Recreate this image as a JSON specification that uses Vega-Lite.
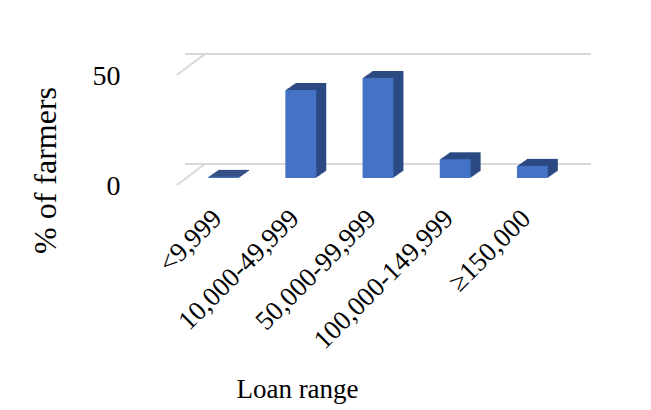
{
  "$schema": "https://vega.github.io/schema/vega-lite/v6.json",
  "autosize": {"type": "none"},
  "padding": {"left": 185, "top": 68, "right": 80, "bottom": 232},
  "width": 386,
  "height": 110,
  "background": "white",
  "config": {"view": {"stroke": null}},
  "data": {"values": [
    {"range": "<9,999", "pct": 0.5},
    {"range": "10,000-49,999", "pct": 40},
    {"range": "50,000-99,999", "pct": 45.5},
    {"range": "100,000-149,999", "pct": 8.5},
    {"range": "≥150,000", "pct": 5.5}
  ]},
  "resolve": {"scale": {"x": "independent"}, "axis": {"x": "independent"}},
  "layer": [
    {
      "data": {"values": [{"g": 0}, {"g": 50}]},
      "mark": {"type": "rule", "color": "#d9d9d9", "strokeWidth": 2, "xOffset": 20, "x2Offset": 20, "yOffset": -14},
      "encoding": {"y": {"field": "g", "type": "quantitative", "scale": {"domain": [0, 50]},
        "axis": {
            "values": [0, 50], "grid": false, "domain": false, "ticks": false,
            "labelPadding": 65, "labelOffset": 8, "labelFont": "Liberation Serif", "labelFontSize": 28, "labelColor": "#000000",
            "title": "% of farmers", "titleFont": "Liberation Serif", "titleFontSize": 32, "titleFontWeight": "normal",
            "titleColor": "#000000", "titleX": -140, "titleY": 102, "titleAngle": -90, "titleAlign": "center", "titleBaseline": "middle"
          }}}
    },
    {
      "data": {"values": [
        {"fx": -0.021, "fy": -3.2, "bx": 0.052, "by": 6.4},
        {"fx": -0.021, "fy": 46.8, "bx": 0.052, "by": 56.4}
      ]},
      "mark": {"type": "rule", "color": "#d9d9d9", "strokeWidth": 2},
      "encoding": {
        "x": {"field": "fx", "type": "quantitative", "scale": {"domain": [0, 1]}, "axis": null},
        "x2": {"field": "bx"},
        "y": {"field": "fy", "type": "quantitative", "title": "% of farmers"},
        "y2": {"field": "by"}
      }
    },
    {
      "encoding": {
        "x": {
          "field": "range", "type": "nominal", "sort": null,
          "scale": {"paddingInner": 0.6, "paddingOuter": 0.3},
          "axis": {
            "domain": false, "ticks": false, "labelAngle": -45, "labelAlign": "right", "labelBaseline": "middle",
            "labelPadding": 36, "labelOffset": -6, "labelLimit": 400, "labelFont": "Liberation Serif", "labelFontSize": 27, "labelColor": "#000000",
            "title": "Loan range", "titleFont": "Liberation Serif", "titleFontSize": 27, "titleFontWeight": "normal",
            "titleColor": "#000000", "titleX": 112, "titleY": 219, "titleBaseline": "alphabetic", "titleAlign": "center"
          }
        },
        "y": {"field": "pct", "type": "quantitative", "title": "% of farmers"}
      },
      "layer": [
        {"mark": {"type": "bar", "color": "#2c4a82", "xOffset": 10, "yOffset": -7}},
        {"mark": {"type": "bar", "color": "#2c4a82", "xOffset": 9, "yOffset": -6.3}},
        {"mark": {"type": "bar", "color": "#2c4a82", "xOffset": 8, "yOffset": -5.6}},
        {"mark": {"type": "bar", "color": "#2c4a82", "xOffset": 7, "yOffset": -4.9}},
        {"mark": {"type": "bar", "color": "#2c4a82", "xOffset": 6, "yOffset": -4.2}},
        {"mark": {"type": "bar", "color": "#2c4a82", "xOffset": 5, "yOffset": -3.5}},
        {"mark": {"type": "bar", "color": "#2c4a82", "xOffset": 4, "yOffset": -2.8}},
        {"mark": {"type": "bar", "color": "#2c4a82", "xOffset": 3, "yOffset": -2.1}},
        {"mark": {"type": "bar", "color": "#2c4a82", "xOffset": 2, "yOffset": -1.4}},
        {"mark": {"type": "bar", "color": "#2c4a82", "xOffset": 1, "yOffset": -0.7}},
        {"mark": {"type": "bar", "color": "#4472c4"}}
      ]
    }
  ]
}
